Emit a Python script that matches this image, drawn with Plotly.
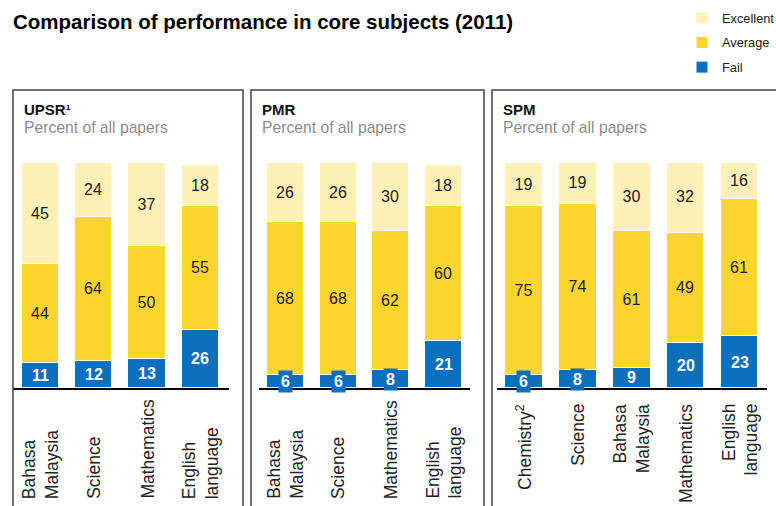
import plotly.graph_objects as go

# Data
panels = ["UPSR¹", "PMR", "SPM"]
labels_upsr = ["Bahasa<br>Malaysia", "<br>Science", "Mathematics<br>", "English<br>language"]
labels_pmr = ["Bahasa<br>Malaysia", "<br>Science", "Mathematics<br>", "English<br>language"]
labels_spm = ["<br>Chemistry<sup>2</sup>", "<br>Science", "Bahasa<br>Malaysia", "<br>Mathematics", "English<br>language"]

fail_upsr = [11, 12, 13, 26]
average_upsr = [44, 64, 50, 55]
excellent_upsr = [45, 24, 37, 18]

fail_pmr = [6, 6, 8, 21]
average_pmr = [68, 68, 62, 60]
excellent_pmr = [26, 26, 30, 18]

fail_spm = [6, 8, 9, 20, 23]
average_spm = [75, 74, 61, 49, 61]
excellent_spm = [19, 19, 30, 32, 16]

series_names = ["Fail", "Average", "Excellent"]
colors = {"Fail": "#0A70BE", "Average": "#FED52F", "Excellent": "#FEF0B6"}
legend_rank = {"Excellent": 1, "Average": 2, "Fail": 3}

data = [
    (labels_upsr, {"Fail": fail_upsr, "Average": average_upsr, "Excellent": excellent_upsr}),
    (labels_pmr, {"Fail": fail_pmr, "Average": average_pmr, "Excellent": excellent_pmr}),
    (labels_spm, {"Fail": fail_spm, "Average": average_spm, "Excellent": excellent_spm}),
]

W, H = 776, 506
FONT = "Arial, Liberation Sans, sans-serif"


def px_x(v):
    return v / W


def px_y(v):
    return 1 - v / H


# layout of the three panels (pixel geometry)
x_domains = [(13, 229), (259, 470), (497, 767)]
x_ranges = [(-0.52, 3.54), (-0.5, 3.5), (-0.5, 4.51)]
frames = [(13, 243), (251, 484), (492, 790)]
label_anchor = ["bottom", "bottom", "top"]

fig = go.Figure()
annotations = []
shapes = []

for p, (labels, vals) in enumerate(data):
    xa = "x" if p == 0 else f"x{p+1}"
    ya = "y" if p == 0 else f"y{p+1}"
    idx = list(range(len(labels)))
    for name in series_names:
        is_text = name != "Fail"
        fig.add_trace(go.Bar(
            x=idx, y=vals[name], name=name, width=0.7,
            marker=dict(color=colors[name], line=dict(color="white", width=1)),
            text=vals[name] if is_text else None,
            textposition="inside" if is_text else "none",
            insidetextanchor="middle", textangle=0, constraintext="none",
            textfont=dict(family=FONT, size=16, color="#1a1a1a"),
            xaxis=xa, yaxis=ya, showlegend=(p == 0), legendgroup=name,
            legendrank=legend_rank[name], hoverinfo="skip",
        ))
    # fail labels (white, boxed when segment is too thin)
    for i, v in enumerate(vals["Fail"]):
        annotations.append(dict(
            x=i, y=v / 2, xref=xa, yref=ya, text=f"<b>{v}</b>", showarrow=False,
            font=dict(family=FONT, size=16, color="white"),
            bgcolor=colors["Fail"] if v < 9 else None, borderpad=2,
        ))
    # category labels
    for i, lab in enumerate(labels):
        anc = label_anchor[p]
        annotations.append(dict(
            x=i, y=px_y(501) if anc == "bottom" else px_y(402), xref=xa, yref="paper",
            text=lab, showarrow=False, textangle=-90, yanchor=anc, xanchor="center",
            align="left" if anc == "bottom" else "right",
            font=dict(family=FONT, size=17.5, color="#222"),
        ))
    # panel headers
    fx0, fx1 = frames[p]
    annotations.append(dict(x=px_x(fx0 + 9), y=px_y(110), xref="paper", yref="paper",
                            text=f"<b>{panels[p]}</b>", showarrow=False,
                            xanchor="left", yanchor="middle",
                            font=dict(family=FONT, size=15, color="#111")))
    annotations.append(dict(x=px_x(fx0 + 9), y=px_y(128), xref="paper", yref="paper",
                            text="Percent of all papers", showarrow=False,
                            xanchor="left", yanchor="middle",
                            font=dict(family=FONT, size=15.7, color="#8c8c8c")))
    shapes.append(dict(type="rect", xref="paper", yref="paper",
                       x0=px_x(fx0), x1=px_x(fx1), y0=-0.1, y1=px_y(90),
                       line=dict(color="#444", width=1.5)))

    dom = x_domains[p]
    axis_x = dict(domain=[px_x(dom[0]), px_x(dom[1])], range=list(x_ranges[p]),
                  showticklabels=False, showgrid=False, zeroline=False,
                  showline=True, linecolor="black", linewidth=2, anchor=ya, fixedrange=True)
    axis_y = dict(domain=[px_y(388), px_y(163)], range=[0, 100], visible=False,
                  anchor=xa, fixedrange=True)
    fig.update_layout(**{
        ("xaxis" if p == 0 else f"xaxis{p+1}"): axis_x,
        ("yaxis" if p == 0 else f"yaxis{p+1}"): axis_y,
    })

annotations.append(dict(x=px_x(11), y=px_y(22), xref="paper", yref="paper",
                        text="<b>Comparison of performance in core subjects (2011)</b>",
                        showarrow=False, xanchor="left", yanchor="middle",
                        font=dict(family=FONT, size=20.5, color="black")))

fig.update_layout(
    width=W, height=H, autosize=False,
    margin=dict(l=0, r=0, t=0, b=0, autoexpand=False),
    paper_bgcolor="white", plot_bgcolor="white",
    barmode="stack", bargap=0,
    annotations=annotations, shapes=shapes,
    showlegend=True,
    legend=dict(x=px_x(682), y=px_y(3), xanchor="left", yanchor="top",
                traceorder="grouped", tracegroupgap=5,
                font=dict(family=FONT, size=12.8, color="#222"),
                bgcolor="rgba(0,0,0,0)"),
)

fig.write_html(
    "out.html",
    config={"displayModeBar": False, "responsive": False},
    post_script="document.body.style.margin='0';"
                "document.body.style.overflow='hidden';"
                "document.documentElement.style.overflow='hidden';",
)
